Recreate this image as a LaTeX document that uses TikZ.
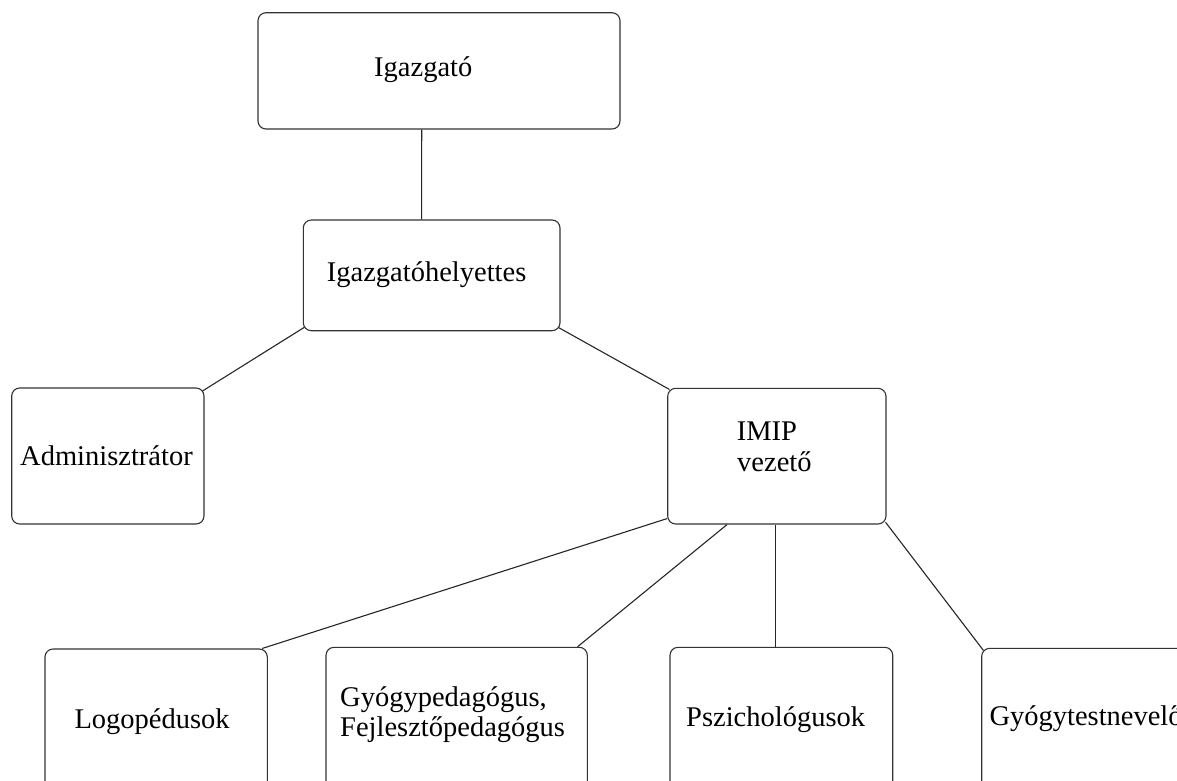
\documentclass[tikz,border=0pt]{standalone}
\usepackage{fontspec}
\setmainfont{Liberation Serif}
\begin{document}
\begin{tikzpicture}[x=1pt,y=-1pt,
  box/.style={draw=black!80, line width=1.1pt, rounded corners=8pt, rectangle, inner sep=0pt},
  lbl/.style={anchor=base west, inner sep=0pt, font=\fontsize{28.5}{30}\selectfont, text=black},
  conn/.style={draw=black!85, line width=1.1pt}]
\useasboundingbox (0,0) rectangle (1177,780);
\clip (0,0) rectangle (1177,780);
\fill[white] (0,0) rectangle (1177,780);
% boxes
\node[box, minimum width=362pt, minimum height=116.3pt] (ig) at (439,70.85) {};
\node[box, minimum width=256.7pt, minimum height=110.7pt] (ih) at (431.65,275.35) {};
\node[box, minimum width=192.3pt, minimum height=136pt] (ad) at (107.85,456) {};
\node[box, minimum width=218.3pt, minimum height=135.7pt] (im) at (776.85,456.15) {};
\node[box, minimum width=222.3pt, minimum height=141pt] (lo) at (156.15,719.5) {};
\node[box, minimum width=261.3pt, minimum height=142.7pt] (gp) at (456.65,718.65) {};
\node[box, minimum width=222.7pt, minimum height=142.7pt] (ps) at (781.35,718.65) {};
\node[box, minimum width=238.3pt, minimum height=141.7pt] (gt) at (1100.85,719.15) {};
% labels
\node[lbl] (tig) at (374,76) {Igazgató};
\node[lbl] (tih) at (326.7,281.7) {Igazgatóhelyettes};
\node[lbl] (tad) at (20,465) {Adminisztrátor};
\node[lbl] (tim1) at (736.7,440) {IMIP};
\node[lbl] (tim2) at (737,471.7) {vezető};
\node[lbl] (tlo) at (74.3,728) {Logopédusok};
\node[lbl] (tgp1) at (340,706.7) {Gyógypedagógus,};
\node[lbl] (tgp2) at (340,736.7) {Fejlesztőpedagógus};
\node[lbl] (tps) at (686,726.7) {Pszichológusok};
\node[lbl] (tgt) at (989.3,725) {Gyógytestnevelő};
% connectors
\draw[conn] ([xshift=-17.3pt]ig.south) -- ([xshift=-10pt]ih.north);
\draw[conn] ([xshift=1.7pt,yshift=4pt]ih.south west) -- ([xshift=-2.3pt,yshift=-3.7pt]ad.north east);
\draw[conn] ([xshift=-2pt,yshift=3.7pt]ih.south east) -- ([xshift=2.3pt,yshift=-1.7pt]im.north west);
\draw[conn] ([yshift=6pt]im.south west) -- ([xshift=-5.6pt]lo.north east);
\draw[conn] ([xshift=-49.8pt]im.south) -- ([xshift=-10.3pt]gp.north east);
\draw[conn] ([xshift=-1pt]im.south) -- ([xshift=-1pt]im.south |- ps.north);
\draw[conn] ([xshift=-1pt,yshift=2.3pt]im.south east) -- ([xshift=2.3pt,yshift=-2.7pt]gt.north west);
\end{tikzpicture}
\end{document}
